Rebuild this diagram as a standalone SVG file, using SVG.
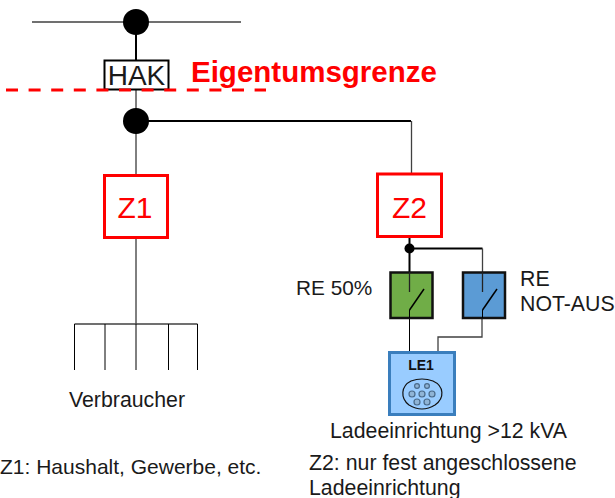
<svg xmlns="http://www.w3.org/2000/svg" width="615" height="498" viewBox="0 0 615 498">
<style>
text{font-family:"Liberation Sans",Arial,sans-serif;fill:#1a1a1a}
.w{fill:none;stroke:#000;stroke-width:1}
.t{fill:none;stroke:#000;stroke-width:2}
.g{fill:none;stroke:#404040;stroke-width:1.3}
.z{fill:#fff;stroke:#f00;stroke-width:3}
.zt{fill:#f00;font-size:30px;text-anchor:middle}
.l{font-size:18px}
.dot{fill:#000}
</style>
<rect width="615" height="498" fill="#fff"/>
<g id="connectors">
<path class="g" d="M32 22H241"/>
<path class="t" d="M136 22V60"/>
<path class="w" d="M136 90V174"/>
<path class="t" d="M136 121H411"/>
<path class="g" d="M411.500 121V174"/>
<path class="w" d="M136 237V324"/>
<path class="g" d="M74.500 324H197.500"/>
<path class="w" d="M74.500 324V370M105 324V370M136 324V370M168.500 324V370M197.500 324V370"/>
<path class="t" d="M409.500 237V272"/>
<path class="t" d="M409.500 248.500H482.500"/>
<path class="g" d="M482.500 248.500V272"/>
<path class="w" d="M409.500 318V352"/>
<path class="g" d="M482 318V337H438V352"/>
</g>
<g id="n-top"><circle class="dot" cx="136" cy="22" r="13"/></g>
<g id="n-hak"><rect x="104.500" y="60.500" width="64" height="29" fill="#fff" stroke="#000" stroke-width="2"/><text x="136.500" y="85" font-size="28" text-anchor="middle">HAK</text></g>
<g id="n-grenze"><path d="M6 90H266" fill="none" stroke="#f00" stroke-width="3" stroke-dasharray="12 10.600"/><text x="191" y="82" font-size="29.500" font-weight="700" style="fill:#f00">Eigentumsgrenze</text></g>
<g id="n-junction"><circle class="dot" cx="136" cy="121" r="13"/></g>
<g id="n-z1"><rect class="z" x="104.500" y="175.500" width="63" height="62"/><text class="zt" x="135" y="218">Z1</text></g>
<g id="n-z2"><rect class="z" x="377.500" y="174" width="64" height="62.500"/><text class="zt" x="409.500" y="218">Z2</text></g>
<g id="n-j2"><circle class="dot" cx="409.500" cy="248.500" r="5"/></g>
<g id="n-re50"><rect x="390.500" y="272.500" width="42" height="45.500" fill="#70ad47" stroke="#111" stroke-width="2.500"/><path d="M409.500 272V292" fill="none" stroke="#222" stroke-width="1.300"/><path d="M409.500 310L424 289" fill="none" stroke="#000" stroke-width="1.500"/><path class="w" d="M409.500 310V318"/><text x="296" y="295" font-size="20.800">RE 50%</text></g>
<g id="n-notaus"><rect x="463" y="272.500" width="42" height="45.500" fill="#5b9bd5" stroke="#111" stroke-width="2.500"/><path d="M482.500 272V292" fill="none" stroke="#222" stroke-width="1.300"/><path d="M482.500 310L497 289" fill="none" stroke="#000" stroke-width="1.500"/><path class="w" d="M482.500 310V318"/><text x="520" y="286" font-size="21.300">RE</text><text x="520" y="311" font-size="21.300">NOT-AUS</text></g>
<g id="n-le1"><rect x="389.500" y="352.500" width="65" height="62" fill="#99ccff" stroke="#3a7ebd" stroke-width="3"/><text x="421" y="370" font-size="14" font-weight="700" text-anchor="middle" style="fill:#111">LE1</text>
<path d="M411 381Q422 377 433 381C444 386 445 398 435 405Q422 413 409 405C400 398 401 386 411 381Z" fill="none" stroke="#111" stroke-width="1.200"/>
<g fill="#8fb4d6" stroke="#4a6a8a" stroke-width="1.200"><circle cx="417" cy="386" r="2.400"/><circle cx="427" cy="386" r="2.400"/><circle cx="412" cy="394" r="3"/><circle cx="422" cy="394" r="3"/><circle cx="432" cy="394" r="3"/><circle cx="417" cy="402" r="3"/><circle cx="427" cy="402" r="3"/></g></g>
<g id="n-labels"><text x="69" y="407" font-size="21.300">Verbraucher</text><text x="0" y="474" font-size="21">Z1: Haushalt, Gewerbe, etc.</text><text x="330" y="438" font-size="21.300">Ladeeinrichtung &gt;12 kVA</text><text x="309" y="470" font-size="21.300">Z2: nur fest angeschlossene</text><text x="309" y="495" font-size="21.300">Ladeeinrichtung</text></g>
</svg>
